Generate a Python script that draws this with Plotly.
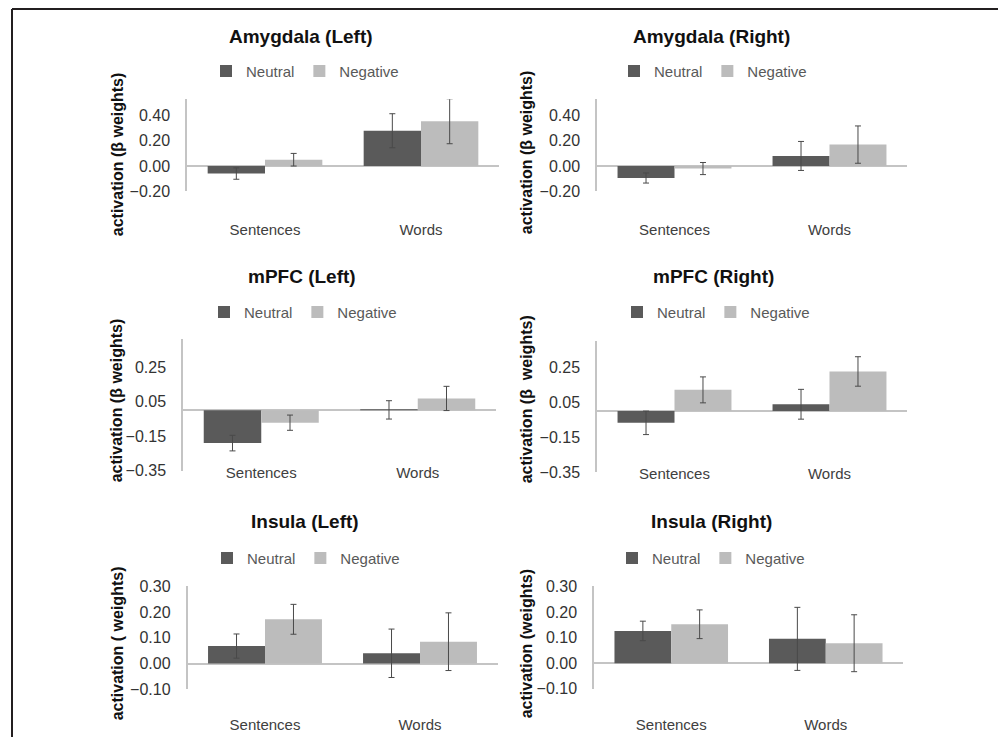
import plotly.graph_objects as go

# ---------------- data ----------------
categories = ["Sentences", "Words"]
series_names = ["Neutral", "Negative"]

panel_titles = ["Amygdala (Left)", "Amygdala (Right)", "mPFC (Left)",
                "mPFC (Right)", "Insula (Left)", "Insula (Right)"]
y_titles = ["activation (β weights)", "activation (β weights)",
            "activation (β weights)", "activation (β  weights)",
            "activation ( weights)", "activation (weights)"]

amyg_left_neutral = [-0.06, 0.28]
amyg_left_neutral_err = [0.045, 0.135]
amyg_left_negative = [0.05, 0.355]
amyg_left_negative_err = [0.05, 0.178]

amyg_right_neutral = [-0.095, 0.08]
amyg_right_neutral_err = [0.04, 0.115]
amyg_right_negative = [-0.02, 0.17]
amyg_right_negative_err = [0.048, 0.148]

mpfc_left_neutral = [-0.19, 0.002]
mpfc_left_neutral_err = [0.045, 0.053]
mpfc_left_negative = [-0.072, 0.068]
mpfc_left_negative_err = [0.044, 0.07]

mpfc_right_neutral = [-0.068, 0.038]
mpfc_right_neutral_err = [0.067, 0.085]
mpfc_right_negative = [0.12, 0.225]
mpfc_right_negative_err = [0.074, 0.084]

insula_left_neutral = [0.068, 0.04]
insula_left_neutral_err = [0.047, 0.094]
insula_left_negative = [0.172, 0.085]
insula_left_negative_err = [0.058, 0.112]

insula_right_neutral = [0.126, 0.095]
insula_right_neutral_err = [0.038, 0.123]
insula_right_negative = [0.152, 0.078]
insula_right_negative_err = [0.056, 0.111]

y_ticks_amyg = [-0.2, 0.0, 0.2, 0.4]
y_ticks_mpfc = [-0.35, -0.15, 0.05, 0.25]
y_ticks_insula = [-0.1, 0.0, 0.1, 0.2, 0.3]

panel_values = [
    (amyg_left_neutral, amyg_left_neutral_err, amyg_left_negative, amyg_left_negative_err),
    (amyg_right_neutral, amyg_right_neutral_err, amyg_right_negative, amyg_right_negative_err),
    (mpfc_left_neutral, mpfc_left_neutral_err, mpfc_left_negative, mpfc_left_negative_err),
    (mpfc_right_neutral, mpfc_right_neutral_err, mpfc_right_negative, mpfc_right_negative_err),
    (insula_left_neutral, insula_left_neutral_err, insula_left_negative, insula_left_negative_err),
    (insula_right_neutral, insula_right_neutral_err, insula_right_negative, insula_right_negative_err),
]
panel_ticks = [y_ticks_amyg, y_ticks_amyg, y_ticks_mpfc, y_ticks_mpfc, y_ticks_insula, y_ticks_insula]
panel_ranges = [[-0.2, 0.53], [-0.2, 0.53], [-0.35, 0.41], [-0.35, 0.40], [-0.1, 0.3], [-0.1, 0.3]]

# ---------------- layout (target pixels) ----------------
W, H = 998, 746
Y_SHIFT, Y_SCALE = 8.8, 0.977   # empirical vertical mapping of the photographed page


def fx(px):
    return px / W


def fy(py):
    f = (py - Y_SHIFT) / Y_SCALE
    f = min(max(f, 0.0), H)
    return 1 - f / H


# x domain (left,right), y domain (bottom px, top px), category label center y,
# title center (x,y), legend center (x,y), y-title center (x,y)
geo = [
    dict(xd=(187, 499), yd=(192, 100), cat_y=229, title=(301, 37), leg=(305, 72), yt=(117, 155)),
    dict(xd=(597, 907), yd=(192, 100), cat_y=229, title=(711, 37), leg=(713, 72), yt=(526, 153)),
    dict(xd=(183, 496), yd=(471.5, 340), cat_y=472, title=(302, 277), leg=(303, 313), yt=(116, 401)),
    dict(xd=(597, 907), yd=(473, 341.5), cat_y=473, title=(713, 277), leg=(716, 313), yt=(526, 400)),
    dict(xd=(187.5, 497.5), yd=(690, 587), cat_y=724, title=(305, 522), leg=(306, 559), yt=(117, 644)),
    dict(xd=(594, 903), yd=(689.5, 587), cat_y=724, title=(711, 522), leg=(711, 559), yt=(526, 645)),
]

DARK = "#5a5a5a"
LIGHT = "#bcbcbc"
ERR = "#4a4a4a"
AXIS = "#c4c4c4"
FONT = "Liberation Sans, Arial, sans-serif"
LABEL_OFFSET = 9

fig = go.Figure()
layout = dict(
    width=W, height=H, autosize=False, margin=dict(l=0, r=0, t=0, b=0, pad=0),
    paper_bgcolor="white", plot_bgcolor="white",
    barmode="group", bargap=0.265, bargroupgap=0.0,
    font=dict(family=FONT, color="#333333"),
    annotations=[], shapes=[],
)

for i in range(6):
    n = i + 1
    suffix = "" if n == 1 else str(n)
    legname = "legend" if n == 1 else f"legend{n}"
    g = geo[i]
    neu, neu_e, neg, neg_e = panel_values[i]
    for name, vals, errs, col in [(series_names[0], neu, neu_e, DARK),
                                  (series_names[1], neg, neg_e, LIGHT)]:
        fig.add_trace(go.Bar(
            x=categories, y=vals, name=name,
            marker=dict(color=col, line=dict(width=0)),
            error_y=dict(type="data", array=errs, visible=True,
                         color=ERR, thickness=1, width=3),
            xaxis="x" + suffix, yaxis="y" + suffix,
            legend=legname, showlegend=True,
        ))
    layout["xaxis" + suffix] = dict(
        domain=[fx(g["xd"][0]), fx(g["xd"][1])],
        anchor="free", position=fy(g["cat_y"] - LABEL_OFFSET),
        type="category", range=[-0.5, 1.5],
        showline=False, showgrid=False, zeroline=False, ticks="",
        tickfont=dict(size=15, color="#404040", family=FONT),
        fixedrange=True,
    )
    layout["yaxis" + suffix] = dict(
        domain=[fy(g["yd"][0]), fy(g["yd"][1])],
        anchor="x" + suffix, range=panel_ranges[i],
        tickvals=panel_ticks[i], tickformat=".2f",
        showline=True, linecolor=AXIS, linewidth=1.5,
        showgrid=False, zeroline=True, zerolinecolor=AXIS, zerolinewidth=1.5,
        ticks="", ticklabelstandoff=12,
        tickfont=dict(size=16, color="#333333", family=FONT),
        fixedrange=True,
    )
    layout[legname] = dict(
        orientation="h", x=fx(g["leg"][0]), y=fy(g["leg"][1]),
        xanchor="center", yanchor="middle",
        font=dict(size=15, color="#595959", family=FONT),
        bgcolor="rgba(0,0,0,0)", itemwidth=30, tracegroupgap=0,
    )
    layout["annotations"].append(dict(
        text="<b>" + panel_titles[i] + "</b>", x=fx(g["title"][0]), y=fy(g["title"][1]),
        xref="paper", yref="paper", xanchor="center", yanchor="middle",
        showarrow=False, font=dict(size=19, color="#111111", family=FONT),
    ))
    layout["annotations"].append(dict(
        text="<b>" + y_titles[i] + "</b>", x=fx(g["yt"][0]), y=fy(g["yt"][1]),
        xref="paper", yref="paper", xanchor="center", yanchor="middle",
        textangle=-90, showarrow=False,
        font=dict(size=16, color="#111111", family=FONT),
    ))

# frame lines (top and left)
layout["shapes"].append(dict(type="line", xref="paper", yref="paper",
                             x0=fx(12), x1=1, y0=1 - 1.0 / H, y1=1 - 1.0 / H,
                             line=dict(color="#231f20", width=2)))
layout["shapes"].append(dict(type="line", xref="paper", yref="paper",
                             x0=fx(12), x1=fx(12), y0=1 - 1.0 / H, y1=0,
                             line=dict(color="#231f20", width=2)))

fig.update_layout(**layout)
fig.write_html("out.html", config={"displayModeBar": False},
               post_script="document.body.style.margin='0';document.body.style.overflow='hidden';")
